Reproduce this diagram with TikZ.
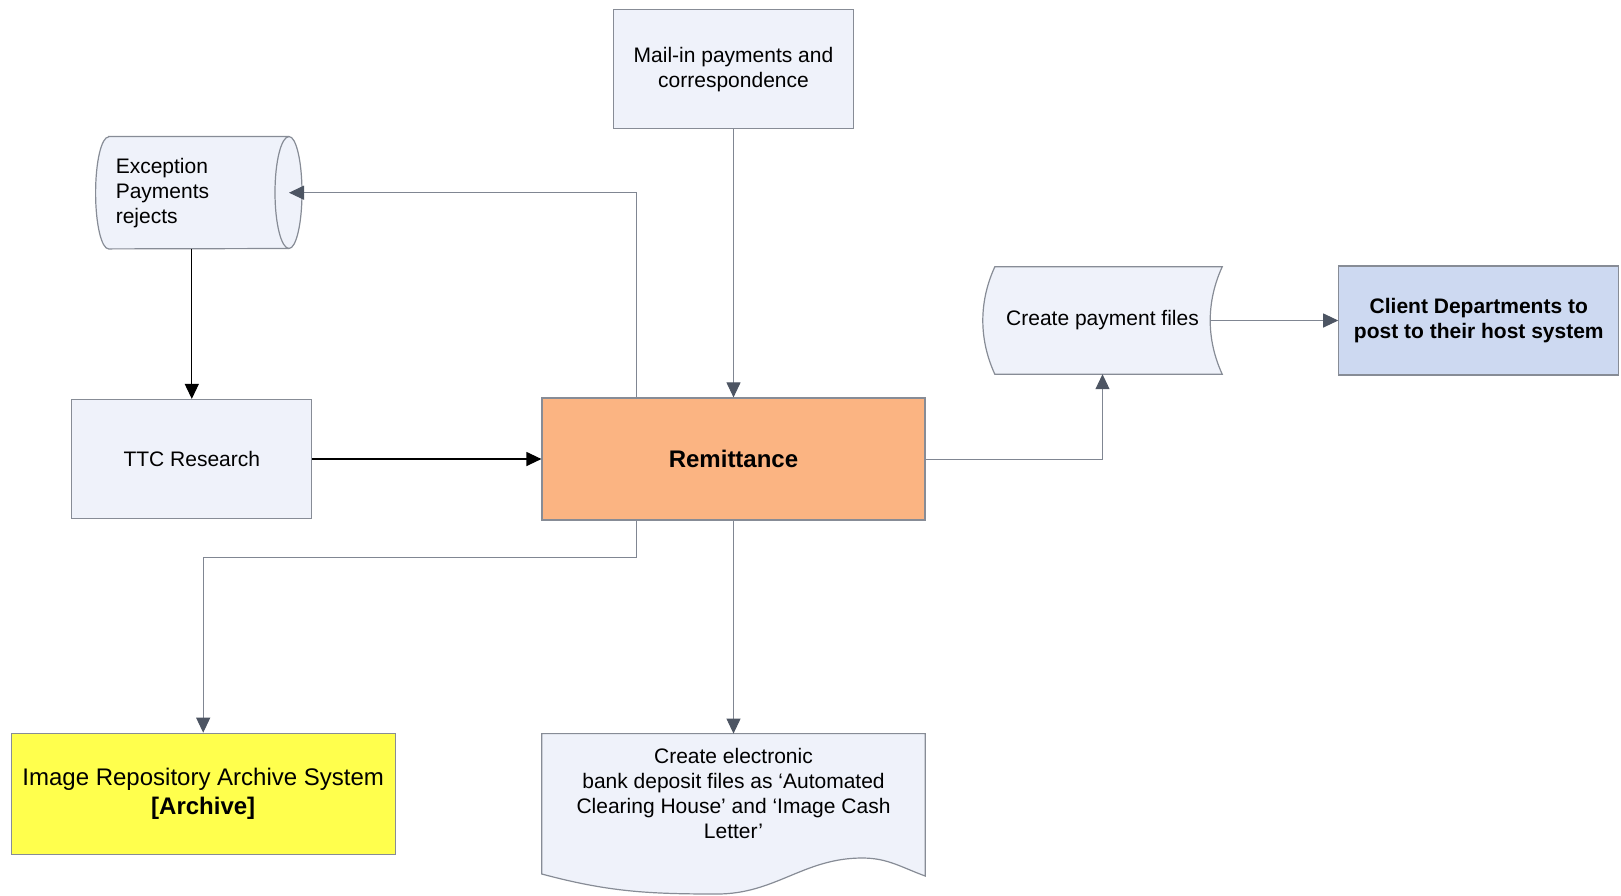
\documentclass[tikz,border=0pt]{standalone}
\usepackage{fontspec}
\setmainfont{Liberation Sans}
\usetikzlibrary{arrows.meta,positioning,calc,backgrounds}
\definecolor{boxfill}{RGB}{239,242,250}
\definecolor{edgecol}{RGB}{135,140,150}
\definecolor{wirecol}{RGB}{128,134,146}
\definecolor{tipcol}{RGB}{77,85,99}
\definecolor{remfill}{RGB}{251,180,130}
\definecolor{clifill}{RGB}{205,217,241}
\definecolor{imgfill}{RGB}{255,255,77}

\begin{document}
\begin{tikzpicture}[x=1pt,y=-1pt,>=Triangle,font=\fontsize{21}{25}\selectfont]
\tikzset{box/.style={draw=edgecol,fill=boxfill,line width=1.2pt,align=center,inner sep=4pt},
  shp/.style={draw=edgecol,fill=boxfill,line width=1.2pt},
  flow/.style={draw=wirecol,line width=1pt,-{Triangle[length=15pt,width=14pt,color=tipcol]}},
  flowk/.style={draw=black,line width=1.2pt,-{Triangle[length=15pt,width=14pt]}}}
\useasboundingbox (0,0) rectangle (1621,895);
\node[box,fill=remfill,minimum width=383pt,minimum height=122pt,font=\fontsize{24}{28}\selectfont\bfseries] (rem) at (733.5,459) {Remittance};
\node[box,minimum width=240pt,minimum height=119pt,above=268pt of rem] (mail) {Mail-in payments and\\correspondence};
\node[box,minimum width=240pt,minimum height=119pt,left=229pt of rem] (ttc) {TTC Research};
\node[text width=166pt,inner xsep=7pt,minimum height=112pt,align=left,above=150pt of ttc,xshift=7pt] (exc) {Exception\\Payments\\rejects};
\node[minimum width=239pt,minimum height=107pt] (pay) at (1102.5,320.5) {Create payment files};
\node[box,fill=clifill,minimum width=280pt,minimum height=109pt,right=116pt of pay,font=\fontsize{21}{25}\selectfont\bfseries] (cli) {Client Departments to\\post to their host system};
\node[minimum width=383pt,minimum height=120pt,below=213pt of rem,align=center] (doc) {Create electronic\\bank deposit files as ‘Automated\\Clearing House’ and ‘Image Cash\\Letter’};
\node[box,fill=imgfill,minimum width=384pt,minimum height=121pt,left=146pt of doc,font=\fontsize{24}{28.5}\selectfont] (img) {Image Repository Archive System\\\textbf{[Archive]}};
% shapes behind the text
\begin{scope}[on background layer]
\filldraw[shp] (exc.north west) -- (exc.north east) arc[start angle=90,end angle=-90,x radius=13pt,y radius=56pt]
  -- (exc.south west) arc[start angle=270,end angle=90,x radius=13pt,y radius=56pt] -- cycle;
\draw[shp,fill=none] (exc.north east) arc[start angle=90,end angle=270,x radius=14pt,y radius=56pt];
\filldraw[shp] ([xshift=12pt]pay.north west) -- (pay.north east)
  .. controls ([xshift=-16pt,yshift=-35pt]pay.north east) and ([xshift=-16pt,yshift=35pt]pay.south east) .. (pay.south east)
  -- ([xshift=12pt]pay.south west)
  .. controls ([xshift=-4pt,yshift=35pt]pay.south west) and ([xshift=-4pt,yshift=-35pt]pay.north west) .. ([xshift=12pt]pay.north west) -- cycle;
\filldraw[shp] (doc.north west) -- (doc.north east) -- ([yshift=-22pt]doc.south east)
  to[out=160,in=0] ([xshift=-63pt,yshift=-4pt]doc.south east)
  to[out=180,in=0] ([xshift=-16.5pt,yshift=-40pt]doc.south)
  to[out=180,in=-15] ([yshift=-20pt]doc.south west) -- cycle;
\end{scope}
% connectors
\draw[flow] (mail) -- (rem);
\draw[flow] ([xshift=-97.5pt]rem.north) |- (exc.east);
\draw[flowk] (exc.south -| ttc.north) -- (ttc);
\draw[flowk] (ttc) -- (rem);
\draw[flow] (rem.east) -| (pay.south);
\draw[flow] ([xshift=-12pt]pay.east) -- (cli);
\draw[flow] ([xshift=-97.5pt]rem.south) -- ++(0,37) -| (img.north);
\draw[flow] (rem) -- (doc);
\end{tikzpicture}
\end{document}
